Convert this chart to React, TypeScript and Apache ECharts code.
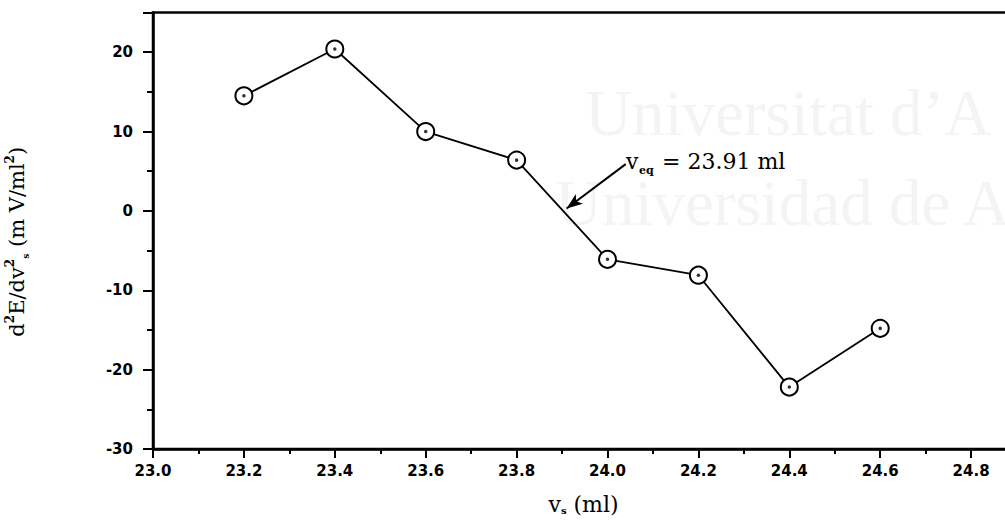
import React, { useEffect, useRef } from "react";
import * as echarts from "echarts";

const volumes = [23.2, 23.4, 23.6, 23.8, 24.0, 24.2, 24.4, 24.6];
const secondDeriv = [14.5, 20.4, 10.0, 6.4, -6.1, -8.1, -22.2, -14.8];
const veqValue = 23.91;
const veqLabel = "= 23.91 ml";
const xTicks = { min: 23.0, max: 25.0, interval: 0.2 };
const yTicks = { min: -30, max: 25, interval: 10 };

const CHART_W = 1100;
const SERIF = "DejaVu Serif";

export default function App() {
  const ref = useRef<HTMLDivElement>(null);
  useEffect(() => {
    if (!ref.current) return;
    document.body.style.overflow = "hidden";
    const chart = echarts.init(ref.current, null, { renderer: "svg" });
    const pts = volumes.map((v, i) => [v, secondDeriv[i]]);
    const labelFont = {
      fontFamily: "DejaVu Sans",
      fontWeight: "bold" as const,
      fontSize: 15,
      color: "#000",
    };
    chart.setOption({
      animation: false,
      backgroundColor: "#fff",
      grid: {
        left: 153,
        top: 12.5,
        right: CHART_W - 1062,
        bottom: 71,
        show: true,
        borderColor: "#000",
        borderWidth: 2.5,
        outerBoundsMode: "none",
        containLabel: false,
      },
      graphic: [
        {
          type: "text",
          left: 585,
          top: 80,
          z: -10,
          silent: true,
          style: {
            text: "Universitat d\u2019A",
            font: "65px 'Liberation Serif'",
            fill: "#f4f4f4",
          },
        },
        {
          type: "text",
          left: 555,
          top: 170,
          z: -10,
          silent: true,
          style: {
            text: "Universidad de A",
            font: "65px 'Liberation Serif'",
            fill: "#f4f4f4",
          },
        },
        {
          type: "text",
          left: 626,
          top: 150,
          style: { text: "v", font: "22px '" + SERIF + "'", fill: "#000" },
        },
        {
          type: "text",
          left: 639,
          top: 165,
          style: { text: "eq", font: "bold 11px '" + SERIF + "'", fill: "#000" },
        },
        {
          type: "text",
          left: 662,
          top: 150,
          style: { text: veqLabel, font: "22px '" + SERIF + "'", fill: "#000" },
        },
      ],
      xAxis: {
        type: "value",
        min: xTicks.min,
        max: xTicks.max,
        interval: xTicks.interval,
        name: "{v|v}{sub|s}{t| (ml)}",
        nameLocation: "middle",
        nameGap: 42,
        nameTextStyle: {
          padding: [0, 48, 0, 0],
          rich: {
            v: { fontFamily: SERIF, fontSize: 22, color: "#000", verticalAlign: "bottom", lineHeight: 24 },
            sub: { fontFamily: SERIF, fontSize: 10, fontWeight: "bold", color: "#000", verticalAlign: "bottom", lineHeight: 11 },
            t: { fontFamily: SERIF, fontSize: 22, color: "#000", verticalAlign: "bottom", lineHeight: 24 },
          },
        },
        axisLine: { show: true, onZero: false, lineStyle: { color: "#000", width: 2.5 } },
        axisTick: { show: true, length: 9, lineStyle: { color: "#000", width: 2 } },
        minorTick: { show: true, splitNumber: 2, length: 5, lineStyle: { color: "#000", width: 2 } },
        splitLine: { show: false },
        axisLabel: {
          ...labelFont,
          margin: 14,
          formatter: (v: number) => (v >= 24.95 ? "" : v.toFixed(1)),
        },
      },
      yAxis: {
        type: "value",
        min: yTicks.min,
        max: yTicks.max,
        interval: yTicks.interval,
        name: "d{sup|2}E/dv{sup|2}{sub|s} (m V/ml{sup|2})",
        nameLocation: "middle",
        nameGap: 123,
        nameRotate: 90,
        nameTextStyle: {
          padding: [0, 22, 0, 0],
          rich: {
            sup: { fontFamily: SERIF, fontSize: 12, fontWeight: "bold", color: "#000", verticalAlign: "top", lineHeight: 26 },
            sub: { fontFamily: SERIF, fontSize: 9, fontWeight: "bold", color: "#000", verticalAlign: "bottom", lineHeight: 20 },
          },
          fontFamily: SERIF,
          fontSize: 21,
          color: "#000",
          lineHeight: 24,
        },
        axisLine: { show: true, onZero: false, lineStyle: { color: "#000", width: 2.5 } },
        axisTick: { show: true, length: 10, lineStyle: { color: "#000", width: 2 } },
        minorTick: { show: true, splitNumber: 2, length: 6, lineStyle: { color: "#000", width: 2 } },
        splitLine: { show: false },
        axisLabel: {
          ...labelFont,
          margin: 20,
          formatter: (v: number) => (v > 20 ? "" : String(v)),
        },
      },
      series: [
        {
          type: "line",
          data: pts,
          symbol: "emptyCircle",
          symbolSize: 17,
          showAllSymbol: true,
          lineStyle: { color: "#000", width: 1.8 },
          itemStyle: { color: "#000", borderColor: "#000", borderWidth: 3.5 },
          z: 3,
          markLine: {
            silent: true,
            animation: false,
            label: { show: false },
            data: [
              [
                { yAxis: 0, symbol: "none", lineStyle: { color: "#000", width: 2.5, type: "solid" } },
                { yAxis: 0, symbol: "none" },
              ],
              [
                {
                  coord: [24.04, 5.9],
                  symbol: "none",
                  lineStyle: { color: "#000", width: 2, type: "solid" },
                },
                { coord: [veqValue, 0.3], symbol: "arrow", symbolSize: [9, 16] },
              ],
            ],
          },
        },
        {
          type: "scatter",
          data: pts,
          symbol: "circle",
          symbolSize: 3.5,
          itemStyle: { color: "#000" },
          z: 4,
        },
      ],
    });
    return () => chart.dispose();
  }, []);
  return (
    <div
      ref={ref}
      style={{ position: "fixed", left: 0, top: 0, width: CHART_W, height: 520 }}
    />
  );
}
